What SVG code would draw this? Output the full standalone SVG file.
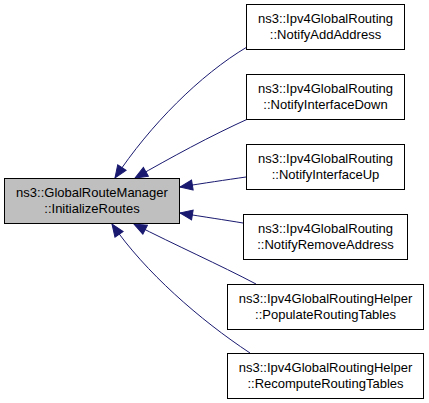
<svg xmlns="http://www.w3.org/2000/svg" width="429" height="403" viewBox="0 0 429 403">
<style>
.node rect{fill:#ffffff;stroke:#000000;stroke-width:1}
.node.main rect{fill:#bfbfbf}
.node text{font-family:"Liberation Sans",Arial,Helvetica,sans-serif;font-size:13px;fill:#000000;text-anchor:middle}
.edge{fill:none;stroke:#191970;stroke-width:1;marker-end:url(#arrow)}
</style>
<defs>
<marker id="arrow" markerUnits="userSpaceOnUse" markerWidth="15" markerHeight="12" refX="13.5" refY="6" orient="auto">
<path d="M1,1 L13.5,6 L1,11 z" fill="#191970" stroke="#191970" stroke-width="1"/>
</marker>
</defs>
<rect width="429" height="403" fill="#ffffff"/>
<g id="connectors">
<path class="edge" d="M247,47 C200,75 150,125 115,178"/>
<path class="edge" d="M250,118 C210,136 170,158 135,178"/>
<path class="edge" d="M246,177 C225,180 205,183 180,187"/>
<path class="edge" d="M243,223 C225,220 205,217 180,213"/>
<path class="edge" d="M256,284 C220,265 175,245 134,224"/>
<path class="edge" d="M250,353 C200,320 145,272 112,224"/>
</g>
<g id="main" class="node main">
<rect x="4.5" y="178.5" width="175" height="45"/>
<text x="92" y="197">ns3::GlobalRouteManager</text>
<text x="92" y="213">::InitializeRoutes</text>
</g>
<g id="n1" class="node">
<rect x="246.5" y="4.5" width="158" height="45"/>
<text x="325.5" y="23">ns3::Ipv4GlobalRouting</text>
<text x="325.5" y="39">::NotifyAddAddress</text>
</g>
<g id="n2" class="node">
<rect x="246.5" y="74.5" width="158" height="45"/>
<text x="325.5" y="93">ns3::Ipv4GlobalRouting</text>
<text x="325.5" y="109">::NotifyInterfaceDown</text>
</g>
<g id="n3" class="node">
<rect x="246.5" y="144.5" width="158" height="45"/>
<text x="325.5" y="163">ns3::Ipv4GlobalRouting</text>
<text x="325.5" y="179">::NotifyInterfaceUp</text>
</g>
<g id="n4" class="node">
<rect x="243.5" y="214.5" width="164" height="45"/>
<text x="325.5" y="233">ns3::Ipv4GlobalRouting</text>
<text x="325.5" y="249">::NotifyRemoveAddress</text>
</g>
<g id="n5" class="node">
<rect x="227.5" y="284.5" width="196" height="45"/>
<text x="325.5" y="303">ns3::Ipv4GlobalRoutingHelper</text>
<text x="325.5" y="319">::PopulateRoutingTables</text>
</g>
<g id="n6" class="node">
<rect x="227.5" y="353.5" width="196" height="45"/>
<text x="325.5" y="372">ns3::Ipv4GlobalRoutingHelper</text>
<text x="325.5" y="388">::RecomputeRoutingTables</text>
</g>
</svg>
